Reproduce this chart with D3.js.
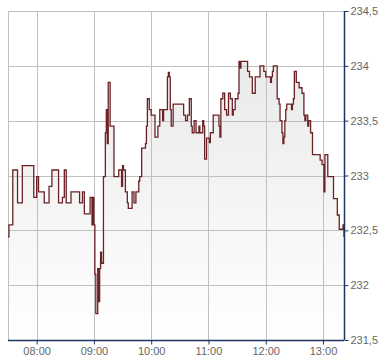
<!DOCTYPE html>
<html>
<head>
<meta charset="utf-8">
<script src="https://cdn.jsdelivr.net/npm/d3@7"></script>
<style>
    body { margin: 0; background: #fff; }
    svg { display: block; font-family: "Liberation Sans", Arial, sans-serif; }
</style>
</head>
<body>
<div id="chart"></div>
<script>
// intraday quotes (step line)
const times = ["07:30","07:31","07:35","07:40","07:45","07:57","08:00","08:02","08:08","08:13",
    "08:16","08:23","08:27","08:29","08:31","08:36","08:45","08:48","08:50","08:56",
    "08:58","08:59","09:00","09:01","09:02","09:04","09:05","09:06","09:07","09:08",
    "09:10","09:12","09:13","09:14","09:15","09:17","09:21","09:26","09:29","09:30",
    "09:31","09:33","09:35","09:36","09:40","09:42","09:44","09:47","09:48","09:50",
    "09:54","09:55","09:56","09:58","10:00","10:04","10:07","10:09","10:12","10:13",
    "10:17","10:18","10:19","10:20","10:21","10:23","10:34","10:36","10:38","10:40",
    "10:42","10:43","10:45","10:47","10:50","10:51","10:54","10:55","10:56","10:58",
    "11:01","11:02","11:05","11:11","11:12","11:13","11:15","11:17","11:19","11:21",
    "11:23","11:25","11:26","11:28","11:31","11:32","11:33","11:34","11:41","11:43",
    "11:46","11:49","11:54","11:58","12:00","12:05","12:06","12:07","12:08","12:12",
    "12:14","12:15","12:17","12:18","12:19","12:20","12:21","12:22","12:27","12:28",
    "12:29","12:30","12:32","12:35","12:38","12:40","12:41","12:42","12:44","12:45",
    "12:47","12:49","12:57","12:59","13:01","13:02","13:05","13:11","13:15","13:17",
    "13:21","13:22"];
const prices = [232.44,232.55,233.05,232.75,233.09,232.80,232.99,232.85,232.75,232.90,
    233.05,232.75,232.80,233.05,232.75,232.85,232.75,232.85,232.65,232.80,
    232.55,232.80,232.55,232.10,231.74,232.15,231.85,232.15,232.30,232.20,
    232.99,233.39,233.60,233.29,233.85,233.45,232.99,233.05,232.90,233.09,
    233.05,232.85,232.75,232.70,232.85,232.75,232.85,232.95,232.99,233.25,
    233.29,233.45,233.70,233.60,233.55,233.35,233.45,233.60,233.50,233.60,
    233.90,233.94,233.90,233.60,233.45,233.65,233.55,233.50,233.55,233.70,
    233.45,233.39,233.50,233.39,233.45,233.39,233.50,233.45,233.15,233.34,
    233.30,233.39,233.55,233.45,233.35,233.70,233.75,233.60,233.55,233.75,
    233.70,233.55,233.60,233.70,233.75,234.04,233.98,234.04,233.95,233.90,
    233.75,233.90,234.00,233.95,233.90,233.85,233.90,233.95,234.00,233.70,
    233.65,233.50,233.39,233.29,233.35,233.50,233.60,233.65,233.60,233.65,
    233.70,233.95,233.85,233.80,233.75,233.55,233.50,233.55,233.45,233.50,
    233.39,233.19,233.14,233.10,232.85,233.19,232.99,232.79,232.64,232.51,
    232.55,232.44];

const xTickLabels = ["08:00","09:00","10:00","11:00","12:00","13:00"];
const yTicks = [231.5, 232, 232.5, 233, 233.5, 234, 234.5];

const width = 390, height = 364;
const margin = { top: 11, right: 46, bottom: 24, left: 8 };

const parseTime = d3.timeParse("%H:%M");
const data = times.map((t, i) => ({ t: parseTime(t), v: prices[i] }));

const x = d3.scaleTime()
    .domain([parseTime("07:30"), parseTime("13:22")])
    .range([margin.left, width - margin.right]);
const y = d3.scaleLinear()
    .domain([231.5, 234.5])
    .range([height - margin.bottom, margin.top]);

const svg = d3.select("#chart").append("svg")
    .attr("width", width)
    .attr("height", height);

const defs = svg.append("defs");
const grad = defs.append("linearGradient")
    .attr("id", "fillGrad")
    .attr("gradientUnits", "userSpaceOnUse")
    .attr("x1", 0).attr("x2", 0)
    .attr("y1", y(234.5)).attr("y2", y(231.5));
grad.append("stop").attr("offset", "0%").attr("stop-color", "#e6e6e6");
grad.append("stop").attr("offset", "100%").attr("stop-color", "#ffffff");

// area under the line
svg.append("path")
    .datum(data)
    .attr("fill", "url(#fillGrad)")
    .attr("d", d3.area()
        .curve(d3.curveStepAfter)
        .x(d => x(d.t))
        .y0(y(231.5))
        .y1(d => y(d.v)));

// grid
const xHours = xTickLabels.map(parseTime);
svg.append("g")
    .selectAll("line")
    .data(xHours.concat([parseTime("07:30")]))
    .enter()
    .append("line")
    .attr("x1", d => Math.round(x(d)) + 0.5)
    .attr("x2", d => Math.round(x(d)) + 0.5)
    .attr("y1", y(234.5))
    .attr("y2", y(231.5))
    .attr("stroke", "#c0c0c0");

svg.append("g")
    .selectAll("line")
    .data(yTicks)
    .enter()
    .append("line")
    .attr("x1", margin.left)
    .attr("x2", width - margin.right)
    .attr("y1", d => Math.round(y(d)) + 0.5)
    .attr("y2", d => Math.round(y(d)) + 0.5)
    .attr("stroke", "#c0c0c0");

// price line
svg.append("path")
    .datum(data)
    .attr("fill", "none")
    .attr("stroke", "#6b2226")
    .attr("stroke-width", 1.3)
    .attr("d", d3.line()
        .curve(d3.curveStepAfter)
        .x(d => x(d.t))
        .y(d => y(d.v)));

// axes
const fmt = v => (v % 1 === 0 ? String(v) : v.toFixed(1).replace(".", ","));

const yAxis = svg.append("g")
    .attr("transform", `translate(${Math.round(x(parseTime("13:22"))) + 0.5},0)`)
    .call(d3.axisRight(y).tickValues(yTicks).tickSize(4).tickPadding(2).tickFormat(fmt));

const xAxis = svg.append("g")
    .attr("transform", `translate(0,${Math.round(y(231.5)) + 0.5})`)
    .call(d3.axisBottom(x).tickValues(xHours).tickSize(4).tickPadding(3)
        .tickFormat(d3.timeFormat("%H:%M")));

[xAxis, yAxis].forEach(ax => {
    ax.select(".domain").attr("stroke", "#1c3664").attr("stroke-width", 1.5);
    ax.selectAll(".tick line").attr("stroke", "#1c3664");
    ax.selectAll(".tick text")
        .attr("fill", "#666")
        .style("font-size", "11px")
        .style("font-family", "'Liberation Sans', Arial, sans-serif");
});
yAxis.select(".domain").attr("d", `M0,${y(234.5)}V${y(231.5)}`);
xAxis.select(".domain").attr("d", `M${margin.left},0H${x(parseTime("13:22"))}`);
</script>
</body>
</html>
